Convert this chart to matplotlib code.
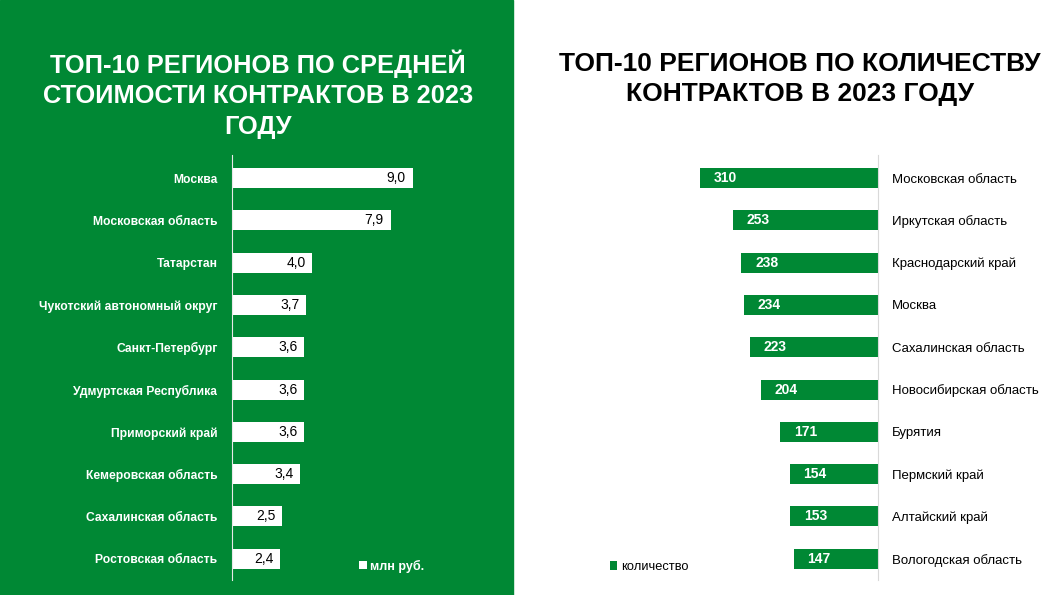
import matplotlib.pyplot as plt
from matplotlib.patches import Rectangle

plt.rcParams['font.family'] = ['Liberation Sans', 'DejaVu Sans']

GREEN = '#008834'
W, H = 1064, 595

# data
cost_regions = ['Москва', 'Московская область', 'Татарстан', 'Чукотский автономный округ',
                'Санкт-Петербург', 'Удмуртская Республика', 'Приморский край',
                'Кемеровская область', 'Сахалинская область', 'Ростовская область']
cost_values = [9.0, 7.9, 4.0, 3.7, 3.6, 3.6, 3.6, 3.4, 2.5, 2.4]

count_regions = ['Московская область', 'Иркутская область', 'Краснодарский край', 'Москва',
                 'Сахалинская область', 'Новосибирская область', 'Бурятия', 'Пермский край',
                 'Алтайский край', 'Вологодская область']
count_values = [310, 253, 238, 234, 223, 204, 171, 154, 153, 147]


def fx(px):
    return px / W


def fy(py):
    return 1 - py / H


fig = plt.figure(figsize=(W / 100, H / 100), dpi=100)
fig.patches.append(Rectangle((0, 0), fx(513), 1, transform=fig.transFigure,
                             color=GREEN, zorder=-10))

# titles
fig.text(fx(258), fy(94), 'ТОП-10 РЕГИОНОВ ПО СРЕДНЕЙ\nСТОИМОСТИ КОНТРАКТОВ В 2023\nГОДУ',
         ha='center', va='center', color='white', fontsize=18.3, fontweight='bold',
         linespacing=1.35)
fig.text(fx(800), fy(79), 'ТОП-10 РЕГИОНОВ ПО КОЛИЧЕСТВУ\nКОНТРАКТОВ В 2023 ГОДУ',
         ha='center', va='center', color='black', fontsize=19, fontweight='bold',
         linespacing=1.35)

top, bottom = 155, 580
row0, step = 178, 42.3
ylim = ((bottom - row0) / step, (top - row0) / step)
bh = 20 / step

# left chart
axl = fig.add_axes([fx(232), fy(bottom), fx(513 - 232), (bottom - top) / H])
axl.set_facecolor('none')
ypos = list(range(len(cost_values)))
bars = axl.barh(ypos, cost_values, height=bh, color='white', label='млн руб.')
axl.set_xlim(0, 281 / 20.1)
axl.set_ylim(*ylim)
for s in ['top', 'right', 'bottom']:
    axl.spines[s].set_visible(False)
axl.spines['left'].set_color('#e8e8e8')
axl.set_xticks([])
axl.set_yticks(ypos)
axl.set_yticklabels(cost_regions, color='white', fontsize=8.7, fontweight='bold')
axl.tick_params(axis='y', length=0, pad=10.5)
for b, v in zip(bars, cost_values):
    axl.annotate(f'{v:.1f}'.replace('.', ','), (b.get_width(), b.get_y() + b.get_height() / 2),
                 xytext=(-5, 0), textcoords='offset points', ha='right', va='center',
                 fontsize=10, color='black')
axl.legend(loc='center left', bbox_to_anchor=(fx(348), fy(566)), bbox_transform=fig.transFigure,
           frameon=False, handlelength=0.6, handleheight=0.6, handletextpad=0.3,
           labelcolor='white', prop={'size': 9, 'weight': 'bold'})

# right chart
axr = fig.add_axes([fx(600), fy(bottom), fx(878 - 600), (bottom - top) / H])
axr.set_facecolor('none')
bars = axr.barh(ypos, count_values, height=bh, color=GREEN, label='количество')
axr.set_xlim(278 / 0.574, 0)
axr.set_ylim(*ylim)
for s in ['top', 'left', 'bottom']:
    axr.spines[s].set_visible(False)
axr.spines['right'].set_color('#d9d9d9')
axr.yaxis.tick_right()
axr.set_xticks([])
axr.set_yticks(ypos)
axr.set_yticklabels(count_regions, color='black', fontsize=9.5)
axr.tick_params(axis='y', length=0, pad=10)
for b, v in zip(bars, count_values):
    axr.annotate(str(v), (b.get_width(), b.get_y() + b.get_height() / 2),
                 xytext=(10, 0), textcoords='offset points', ha='left', va='center',
                 fontsize=10, color='white', fontweight='bold')
axr.legend(loc='center left', bbox_to_anchor=(fx(598), fy(567)), bbox_transform=fig.transFigure,
           frameon=False, handlelength=0.6, handleheight=0.6, handletextpad=0.3,
           labelcolor='black', prop={'size': 9.3})

fig.savefig('out.png', dpi=100)
